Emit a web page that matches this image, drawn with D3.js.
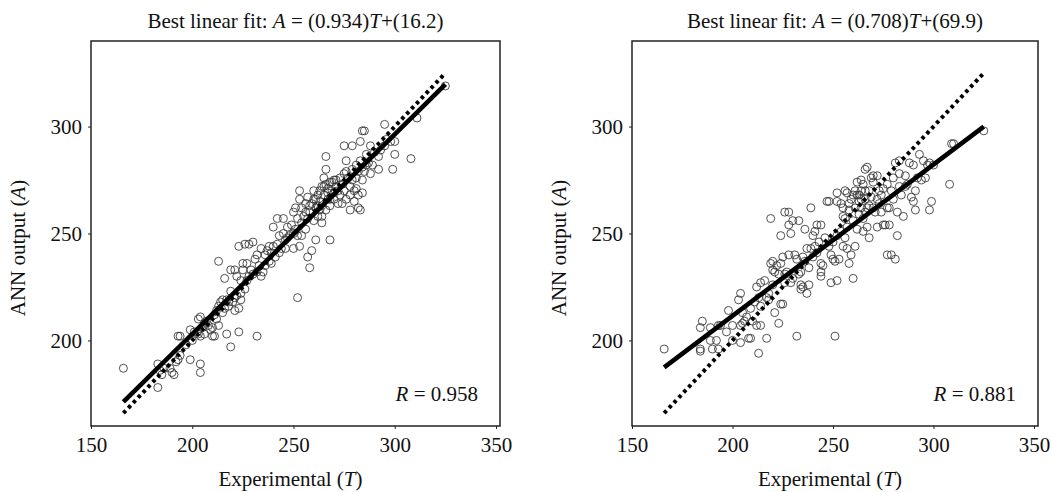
<!DOCTYPE html>
<html>
<head>
<meta charset="utf-8">
<script src="https://cdn.jsdelivr.net/npm/d3@7"></script>
<style>
body{margin:0;background:#fff;}
svg text{font-family:"Liberation Serif","Times New Roman",serif;fill:#111;}
</style>
</head>
<body>
<svg id="chart" width="1052" height="492"></svg>
<script>
// axes shared by both panels
const xDomain = [150, 350];
const yDomain = [160, 340];
const xTicks = [150, 200, 250, 300, 350];
const yTicks = [200, 250, 300];

// best linear fit A = slope*T + intercept, and R
const fitSlopes = [0.934, 0.708];
const fitIntercepts = [16.2, 69.9];
const fitR = [0.958, 0.881];
// T range over which the fit and the A = T line are drawn
const lineRange = [166, 325];

// [T, A] pairs, left panel
const leftPoints = [
    [166,187],[183,189],[183,178],[184,186],[185,184],[186,187],[189,187],[190,185],[191,184],[192,190],
    [193,191],[194,193],[193,202],[194,202],[197,198],
    [199,191],[199,205],[200,200],[201,204],[203,203],[203,210],[204,189],[204,185],[204,211],[204,202],
    [205,206],[206,203],[206,208],[207,209],[208,207],[209,205],[210,202],[210,206],[211,202],[211,212],
    [212,210],[212,214],[213,207],[213,216],
    [213,237],[214,218],[215,213],[216,215],[216,229],[217,219],[217,203],[218,216],[219,197],[219,223],
    [219,233],[220,218],[221,220],[221,233],[222,221],[222,230],[223,204],[223,215],[223,244],[224,222],
    [224,219],[225,233],[225,236],[226,245],[227,228],
    [227,236],[228,245],[229,233],[230,231],[230,246],[231,238],[232,202],[232,240],[233,235],[234,230],
    [234,243],[235,232],[236,240],[237,242],[238,244],[238,237],[239,241],[240,244],[240,253],[241,239],
    [242,245],[242,257],[243,241],[244,243],[245,250],[245,257],[246,247],
    [246,243],[247,253],[248,249],[249,254],[250,243],[250,260],[251,252],[251,262],[252,220],[252,249],
    [252,257],[253,266],[253,270],[253,244],[254,255],[254,262],[255,258],[256,252],[256,264],[257,239],
    [257,267],[258,234],[258,260],[259,242],[259,264],[260,256],[260,266],
    [261,247],[261,262],[262,268],[262,258],[263,265],[263,270],[264,255],[264,263],[264,272],[265,276],
    [265,268],[266,261],[266,280],[266,286],[267,266],[267,271],[268,247],[268,263],[268,274],[269,270],
    [270,266],[270,275],[271,272],[272,264],[273,268],[274,273],[274,264],
    [275,278],[275,291],[276,284],[276,266],[277,276],[278,272],[278,261],[279,280],[279,291],[280,270],
    [280,265],[281,282],[281,276],[282,262],[282,268],[283,261],[283,284],[283,293],[284,298],[284,269],
    [285,279],[285,298],[286,282],[287,283],[288,291],[289,282],[290,288],[292,280],[292,286],[293,289],
    [295,301],[295,291],[296,294],[298,293],[299,280],[300,287],[300,293],
    [308,285],[311,304],[325,319],
    [258,263],[260,270],[262,263],[265,272],[267,269],[269,274],[271,275],[273,276],[276,279],[279,275],
    [282,279],[284,281],[286,287],[288,278],[270,269],[268,266],[264,258],[256,260],[254,249],[247,248],
    [243,249],[239,236],[236,235],[232,232],[228,230],[226,224],[224,228],[221,214],[218,218],[215,219],
    [263,261],[266,273],[272,270],[275,270],[278,268],[281,271],[284,275],[261,266],[257,257],[250,250]
];

// [T, A] pairs, right panel
const rightPoints = [
    [166,196],[184,195],[184,196],[184,206],[185,209],[189,200],[190,196],[189,206],[192,200],[193,196],
    [193,207],[194,207],[198,214],[200,207],[200,200],[197,204],
    [203,219],[204,222],[204,199],[204,207],[205,208],[205,213],[206,209],[207,211],[208,201],[209,201],
    [209,215],[210,209],[211,218],[212,225],[212,207],[213,220],[213,194],[214,207],[214,216],
    [216,228],[217,201],[217,220],[218,222],[218,219],[219,257],[219,236],[220,237],[220,226],[221,232],
    [221,213],[222,235],[223,208],[224,217],[225,217],[224,236],[224,249],[225,239],[226,260],[226,227],
    [227,232],[228,260],[228,254],[228,240],[229,250],[229,227],[230,229],
    [230,256],[231,240],[232,202],[232,238],[233,256],[233,231],[234,232],[234,224],[235,225],[235,239],
    [236,252],[237,243],[238,226],[238,234],[239,262],[240,249],[240,239],[241,251],[242,254],[242,241],
    [243,246],[244,254],[244,236],[244,232],[244,230],[245,235],
    [246,248],[247,265],[248,265],[248,244],[249,227],[249,240],[250,238],[250,246],[251,202],[251,237],
    [252,228],[252,265],[252,249],[253,238],[254,264],[254,251],[255,262],[255,258],[255,244],[256,257],
    [256,270],[256,248],[257,243],[257,253],[258,236],[258,261],[259,240],[259,266],[260,229],[260,256],
    [261,244],[261,262],[262,268],[263,259],[263,265],[264,275],[264,270],[264,262],[265,273],[265,257],
    [266,270],[266,266],[266,260],[267,253],[267,281],[268,248],[268,270],[268,263],[269,267],[270,277],
    [270,274],[271,260],[272,266],[272,253],[273,264],[273,270],[274,260],[275,254],
    [275,271],[276,254],[277,240],[277,262],[277,273],[278,254],[279,240],[279,270],[280,276],[280,266],
    [281,238],[281,283],[282,249],[282,260],[283,278],[283,284],[284,268],[285,258],[286,272],[287,273],
    [288,283],[289,267],[290,282],[290,265],[291,270],[291,261],[292,276],[293,287],[294,275],[295,284],
    [296,276],[297,282],[298,283],[298,261],[299,265],[300,282],
    [308,273],[309,292],[310,292],[325,298],
    [252,269],[257,269],[260,268],[263,268],[258,264],[262,274],[266,280],[269,276],[272,277],[262,252],
    [265,251],[236,237],[239,243],[241,244],[226,231],[223,231],[220,233],[214,227],[234,226],[237,222],
    [261,270],[264,266],[267,262],[270,262],[274,268],[278,262],[283,272],[286,277]
];

/**
 * pixel boxes of the two panels
 */
const panels = [
    {left: 91, right: 500, top: 41, bottom: 426, points: leftPoints},
    {left: 632, right: 1038, top: 41, bottom: 426, points: rightPoints}
];

const svg = d3.select('#chart');
svg.append('rect').attr('width', 1052).attr('height', 492).attr('fill', '#fff');

/**
 * draw one scatter panel with its fit line, the A = T line and labels
 */
function drawPanel(box, i){
    const x = d3.scaleLinear().domain(xDomain).range([box.left, box.right - 4]);
    const y = d3.scaleLinear().domain(yDomain).range([box.bottom, box.top]);
    const g = svg.append('g');
    const midX = (box.left + box.right) / 2;

    // axes: labels and short ticks only, the frame is a rect
    const xAxis = g.append('g')
        .attr('transform', `translate(0,${box.bottom})`)
        .call(d3.axisBottom(x).tickValues(xTicks).tickSize(3).tickPadding(8).tickSizeOuter(0));
    const yAxis = g.append('g')
        .attr('transform', `translate(${box.left},0)`)
        .call(d3.axisLeft(y).tickValues(yTicks).tickSize(3).tickPadding(6).tickSizeOuter(0));
    for(const ax of [xAxis, yAxis]){
        ax.select('.domain').remove();
        ax.attr('font-size', null).attr('font-family', null);
        ax.selectAll('text').style('font-size', '21px');
        ax.selectAll('line').attr('stroke', '#222');
    }

    // scatter points
    g.append('g').selectAll('circle')
        .data(box.points)
        .enter()
        .append('circle')
        .attr('cx', d => x(d[0]))
        .attr('cy', d => y(d[1]))
        .attr('r', 4)
        .attr('fill', 'none')
        .attr('stroke', '#333')
        .attr('stroke-width', 0.85);

    const line = d3.line().x(d => x(d[0])).y(d => y(d[1]));
    // A = T reference, dotted
    g.append('path')
        .attr('d', line(lineRange.map(t => [t, t])))
        .attr('fill', 'none')
        .attr('stroke', '#000')
        .attr('stroke-width', 4)
        .attr('stroke-dasharray', '3.5,3.6');
    // best fit, solid
    g.append('path')
        .attr('d', line(lineRange.map(t => [t, fitSlopes[i] * t + fitIntercepts[i]])))
        .attr('fill', 'none')
        .attr('stroke', '#000')
        .attr('stroke-width', 4.6);

    // frame
    g.append('rect')
        .attr('x', box.left).attr('y', box.top)
        .attr('width', box.right - box.left).attr('height', box.bottom - box.top)
        .attr('fill', 'none').attr('stroke', '#222').attr('stroke-width', 1.5);

    // title
    const title = g.append('text')
        .attr('x', midX).attr('y', 28)
        .attr('text-anchor', 'middle')
        .style('font-size', '21px');
    title.append('tspan').text('Best linear fit: ');
    title.append('tspan').attr('font-style', 'italic').text('A');
    title.append('tspan').text(' = (' + fitSlopes[i].toFixed(3) + ')');
    title.append('tspan').attr('font-style', 'italic').text('T');
    title.append('tspan').text('+(' + fitIntercepts[i].toFixed(1) + ')');

    // R
    const rText = g.append('text')
        .attr('x', box.right - 22).attr('y', box.bottom - 25)
        .attr('text-anchor', 'end')
        .style('font-size', '21px');
    rText.append('tspan').attr('font-style', 'italic').text('R');
    rText.append('tspan').text(' = ' + fitR[i].toFixed(3));

    // axis titles
    const xTitle = g.append('text')
        .attr('x', midX - 5).attr('y', 486)
        .attr('text-anchor', 'middle')
        .style('font-size', '21px');
    xTitle.append('tspan').text('Experimental (');
    xTitle.append('tspan').attr('font-style', 'italic').text('T');
    xTitle.append('tspan').text(')');

    const yTitle = g.append('text')
        .attr('transform', `translate(${box.left - 66},248) rotate(-90)`)
        .attr('text-anchor', 'middle')
        .style('font-size', '21px');
    yTitle.append('tspan').text('ANN output (');
    yTitle.append('tspan').attr('font-style', 'italic').text('A');
    yTitle.append('tspan').text(')');
}

panels.forEach(drawPanel);
</script>
</body>
</html>
